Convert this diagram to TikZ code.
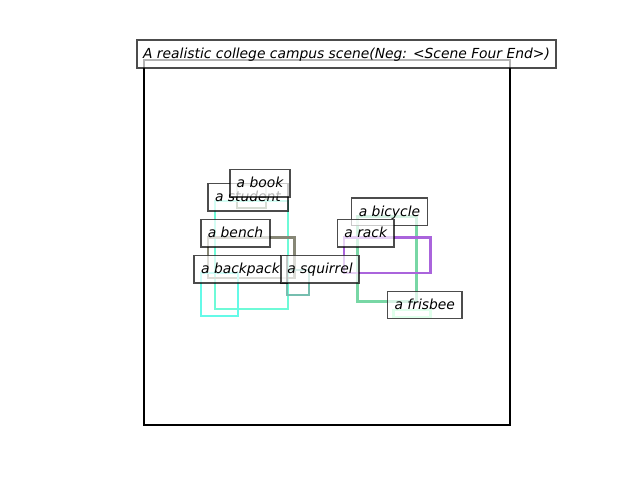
\documentclass[tikz,border=0pt]{standalone}
\usepackage{fontspec}
\setmainfont{DejaVu Sans}
\begin{document}
\begin{tikzpicture}[x=0.025cm,y=-0.025cm,
  objbox/.style={line width=1.8pt},
  lbl/.style={draw=black, draw opacity=0.7, fill=white, fill opacity=0.7, text opacity=1,
    line width=1pt, inner sep=0pt, minimum height=0.6875cm, anchor=center,
    font=\fontsize{9.85}{12}\selectfont\itshape, text height=0.83em, text depth=0.17em}]
\definecolor{cstudent}{RGB}{110,250,215}
\definecolor{cbackpack}{RGB}{100,250,232}
\definecolor{cbench}{RGB}{135,135,118}
\definecolor{csquirrel}{RGB}{118,190,175}
\definecolor{cbicycle}{RGB}{120,215,165}
\definecolor{crack}{RGB}{170,100,220}
\definecolor{cfrisbee}{RGB}{150,255,190}
\definecolor{cbook}{RGB}{120,140,110}
\useasboundingbox[fill=white] (0,0) rectangle (640,480);
% frame
\draw[line width=2.1pt] (144,60) rectangle (510,425);
% object boxes
\draw[objbox, draw=cbook] (237,185) rectangle (266,208);
\draw[objbox, draw=cstudent] (215,201) rectangle (288,309);
\draw[objbox, draw=cbench] (208,237.5) rectangle (294.5,278);
\draw[objbox, draw=cbackpack] (201,273) rectangle (238,316);
\draw[objbox, draw=csquirrel] (287,270) rectangle (309,295);
\draw[objbox, draw=cbicycle] (357.5,216.5) rectangle (416.5,301.5);
\draw[objbox, draw=crack] (344,237.5) rectangle (430.5,273);
\draw[objbox, draw=cfrisbee] (393.5,310) rectangle (430.5,317);
% labels
\node[lbl, minimum width=10.475cm, minimum height=0.7cm] (title) at (346.5,54) {A realistic college campus scene(Neg: <Scene Four End>)};
\node[lbl, minimum width=2.0cm] (student) at (248,197.25) {a student};
\node[lbl, minimum width=1.5cm] (book) at (260,183.25) {a book};
\node[lbl, minimum width=1.725cm] (bench) at (235.5,233.25) {a bench};
\node[lbl, minimum width=2.325cm] (backpack) at (240.5,269.25) {a backpack};
\node[lbl, minimum width=1.95cm] (squirrel) at (320,269.25) {a squirrel};
\node[lbl, minimum width=1.9cm] (bicycle) at (389.5,211.75) {a bicycle};
\node[lbl, minimum width=1.4125cm] (rack) at (365.75,233.25) {a rack};
\node[lbl, minimum width=1.8625cm] (frisbee) at (424.75,305) {a frisbee};
\end{tikzpicture}
\end{document}
